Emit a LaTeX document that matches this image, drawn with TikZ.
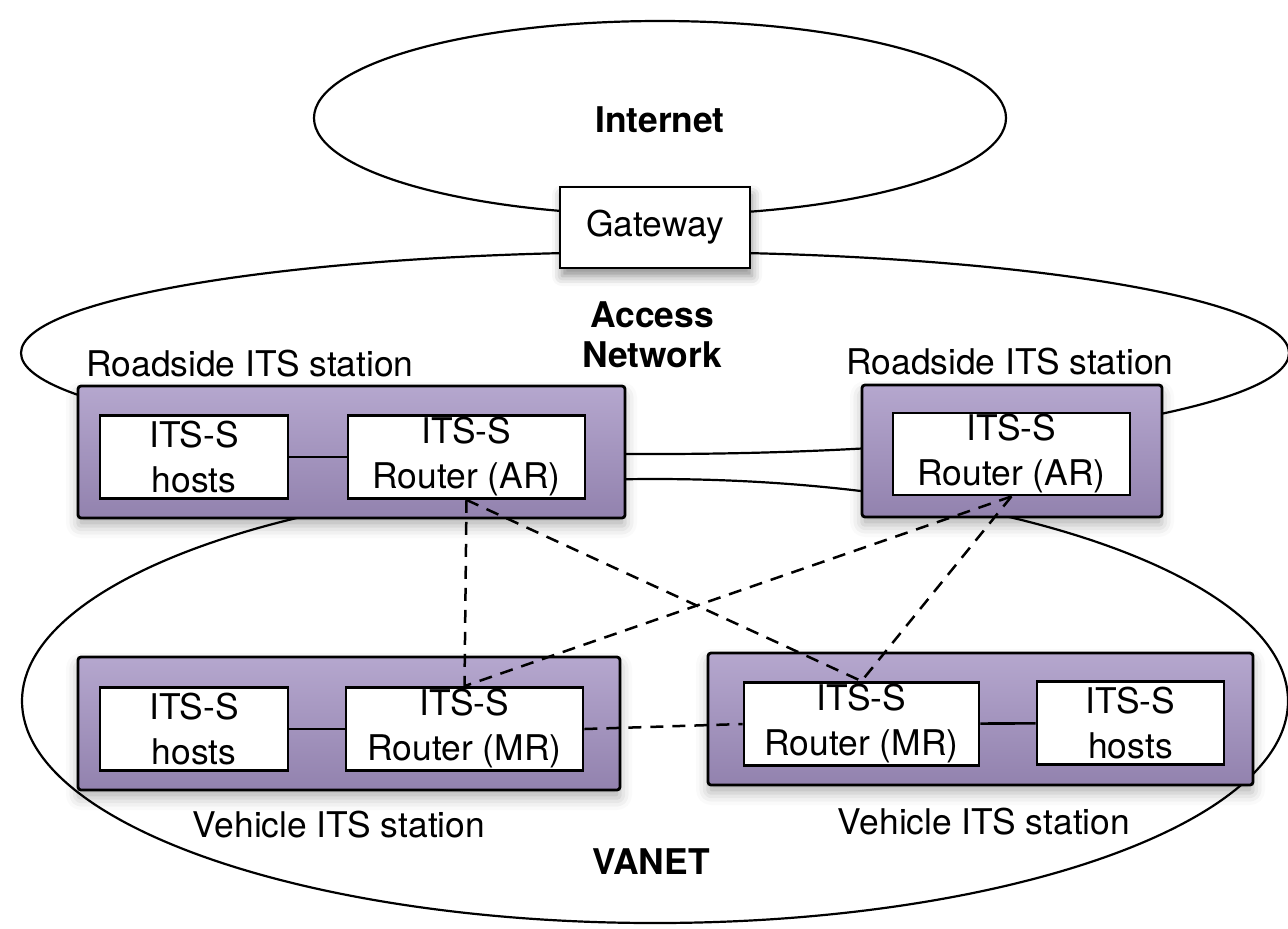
\documentclass[tikz,border=0pt]{standalone}
\usepackage{fontspec}
\setmainfont{TeX Gyre Heros}
\usetikzlibrary{positioning,shapes.geometric,shadows.blur}

\definecolor{stationtop}{RGB}{181,167,206}
\definecolor{stationbot}{RGB}{146,130,174}

\begin{document}
\begin{tikzpicture}[x=0.5pt,y=-0.5pt,
	font=\fontsize{17.7}{22.5}\selectfont,
	cloud/.style = { draw, ellipse, line width=1.1pt, inner sep=0pt },
	netname/.style = { font=\fontsize{17.7}{20}\selectfont\bfseries,
			align=center },
	station/.style = { draw, line width=1.4pt, rounded corners=1.5pt,
			top color=stationtop, bottom color=stationbot,
			inner sep=0pt, minimum height=66pt,
			blur shadow={shadow xshift=0pt, shadow yshift=-4pt,
				shadow blur radius=6pt, shadow opacity=30} },
	unit/.style = { draw, line width=1.4pt, fill=white, align=center,
			inner sep=0pt, minimum height=41.5pt },
	hostbox/.style = { unit, minimum width=94pt },
	routerbox/.style = { unit, minimum width=118.5pt },
	link/.style = { line width=1.3pt },
	radio/.style = { line width=1.25pt, dash pattern=on 6.5pt off 4.5pt }]

  \useasboundingbox (0,0) rectangle (1288,928);

  % networks
  \node[name=internet, cloud, minimum width=346pt, minimum height=97pt]
	at (660,118) {};
  \node[name=access, cloud, minimum width=634pt, minimum height=101pt]
	at (655,353) {};
  \node[name=vanet, cloud, minimum width=633pt, minimum height=222pt]
	at (655,701) {};
  \node[name=internetlbl, netname] at (660,120) {Internet};
  \node[name=accesslbl, netname] at (652,335) {Access\\Network};
  \node[name=vanetlbl, netname] at (651,862) {VANET};

  \node[name=gateway, draw, line width=1.4pt, fill=white, inner sep=0pt,
	minimum width=95pt, minimum height=40.5pt,
	blur shadow={shadow xshift=1pt, shadow yshift=-4pt,
		shadow blur radius=5pt, shadow opacity=45}]
	at (655,227.5) {Gateway};

  % roadside stations
  \node[name=rsl, station, minimum width=273.5pt] at (351.5,452) {};
  \node[name=rslhosts, hostbox] at (194,457) {ITS-S\\hosts};
  \node[name=rslar, routerbox] at (466.5,457) {ITS-S\\Router (AR)};
  \draw[link] (rslhosts) -- (rslar);
  \node[name=rsllbl] at (250,364) {Roadside ITS station};

  \node[name=rsr, station, minimum width=150pt] at (1012,451) {};
  \node[name=rsrar, routerbox, minimum height=41pt] at (1011.5,454)
	{ITS-S\\Router (AR)};
  \node[name=rsrlbl] at (1010,362) {Roadside ITS station};

  % vehicle stations
  \node[name=vsl, station, minimum width=271pt, minimum height=66.5pt]
	at (349,723.5) {};
  \node[name=vslhosts, hostbox] at (194,729) {ITS-S\\hosts};
  \node[name=vslmr, routerbox] at (464.5,729) {ITS-S\\Router (MR)};
  \draw[link] (vslhosts) -- (vslmr);
  \node[name=vsllbl] at (339,825) {Vehicle ITS station};

  \node[name=vsr, station, minimum width=272.5pt] at (980.5,719) {};
  \node[name=vsrmr, routerbox, minimum width=117.5pt] at (861.5,724)
	{ITS-S\\Router (MR)};
  \node[name=vsrhosts, hostbox, minimum width=93.5pt] at (1130.5,723)
	{ITS-S\\hosts};
  \draw[link] (vsrmr) -- (vsrhosts);
  \node[name=vsrlbl] at (984,822) {Vehicle ITS station};

  % wireless links
  \draw[radio] (rslar.south) -- (vslmr.north);
  \draw[radio] (rslar.south) -- (vsrmr.north);
  \draw[radio] (rsrar.south) -- (vslmr.north);
  \draw[radio] (rsrar.south) -- (vsrmr.north);
  \draw[radio] (vslmr.east) -- (vsrmr.west);
\end{tikzpicture}
\end{document}
